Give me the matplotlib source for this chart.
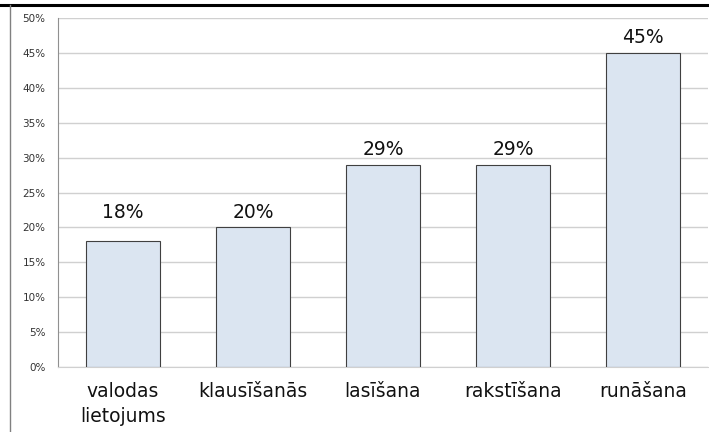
import matplotlib
matplotlib.use("Agg")
import matplotlib.pyplot as plt
from matplotlib.ticker import FuncFormatter, MultipleLocator
from matplotlib.lines import Line2D

categories = ["valodas\nlietojums", "klausīšanās", "lasīšana", "rakstīšana", "runāšana"]
values = [18, 20, 29, 29, 45]

plt.rcParams['font.family'] = ['DejaVu Sans']

W, H = 709, 432
fig = plt.figure(figsize=(W/100, H/100), dpi=100)
ax = fig.add_axes([58/W, 1 - 367/H, (708-58)/W, (367-18)/H])

x = list(range(len(categories)))
bars = ax.bar(x, values, width=0.57, color="#dbe5f1", edgecolor="#404040", linewidth=0.8, zorder=3)
# the first label sits level with its neighbour in the reference
label_base = [max(values[0], values[1])] + values[1:]
for xi, v, base in zip(x, values, label_base):
    ax.text(xi, base + 1.4, f"{v}%", ha="center", va="baseline", fontsize=13.5, color="#111111")

ax.set_xlim(-0.5, len(categories) - 0.5)
ax.set_ylim(0, 50)
ax.yaxis.set_major_locator(MultipleLocator(5))
ax.yaxis.set_major_formatter(FuncFormatter(lambda v, p: f"{int(v)}%"))
ax.grid(axis="y", color="#d0d0d0", linewidth=1.0, zorder=0)
ax.tick_params(axis="y", length=0, labelsize=7.5, colors="#333333", pad=9)
ax.tick_params(axis="x", length=0, labelsize=13.5, colors="#111111", pad=11)
ax.set_xticks(x)
ax.set_xticklabels(categories, linespacing=1.4)
for lab in ax.get_xticklabels():
    lab.set_va("top")
for s in ["top", "right"]:
    ax.spines[s].set_visible(False)
ax.spines["left"].set_color("#909090")
ax.spines["bottom"].set_color("#d0d0d0")

# frame lines
fig.add_artist(Line2D([0, 1], [1 - 5/H, 1 - 5/H], transform=fig.transFigure, color="black", linewidth=2.2))
fig.add_artist(Line2D([10/W, 10/W], [0, 1 - 5/H], transform=fig.transFigure, color="#808080", linewidth=1.0))

fig.savefig("out.png", dpi=100)
